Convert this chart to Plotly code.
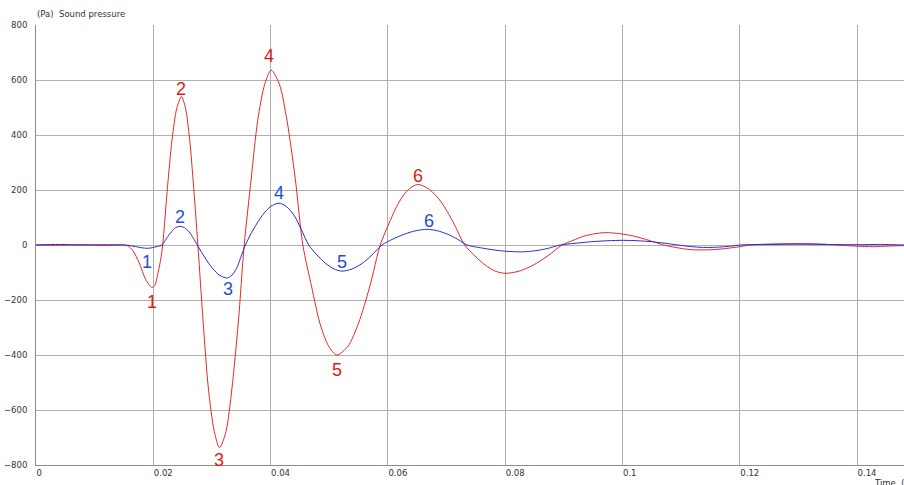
import plotly.graph_objects as go

# ---- data ----
red_t = [0.0000, 0.0040, 0.0080, 0.0120, 0.0155, 0.0165, 0.0176, 0.0187, 0.0198, 0.0203,
         0.0207, 0.0212, 0.0216, 0.0224, 0.0232, 0.0240, 0.0248, 0.0255, 0.0262, 0.0269,
         0.0276, 0.0285, 0.0294, 0.0304, 0.0313, 0.0324, 0.0334, 0.0345, 0.0355, 0.0367,
         0.0378, 0.0390, 0.0401, 0.0415, 0.0428, 0.0442, 0.0455, 0.0470, 0.0484, 0.0499,
         0.0513, 0.0532, 0.0550, 0.0569, 0.0587, 0.0603, 0.0619, 0.0635, 0.0651, 0.0671,
         0.0691, 0.0711, 0.0731, 0.0748, 0.0766, 0.0783, 0.0800, 0.0824, 0.0848, 0.0873,
         0.0897, 0.0916, 0.0934, 0.0953, 0.0971, 0.0996, 0.1020, 0.1045, 0.1070, 0.1086,
         0.1102, 0.1117, 0.1133, 0.1154, 0.1175, 0.1197, 0.1218, 0.1261, 0.1304, 0.1335,
         0.1366, 0.1397, 0.1428, 0.1455, 0.1480]
red_v = [0, -1, 1, -2, -2, -20, -65, -125, -155, -145,
         -112, -60, 0, 205, 383, 497, 540, 497, 383, 205,
         0, -280, -523, -678, -737, -678, -523, -280, 0, 242,
         452, 585, 636, 585, 452, 242, 0, -152, -284, -368,
         -400, -368, -284, -152, 0, 84, 156, 202, 220, 202,
         156, 84, 0, -39, -73, -95, -103, -95, -73, -39,
         0, 17, 32, 41, 45, 41, 32, 17, 0, -7,
         -13, -17, -18, -17, -13, -7, 0, 4, 5, 3.5,
         0, -4, -6, -4, -2]

blue_t = [0.0000, 0.0040, 0.0080, 0.0120, 0.0150, 0.0160, 0.0170, 0.0180, 0.0190, 0.0198,
          0.0207, 0.0215, 0.0223, 0.0231, 0.0238, 0.0246, 0.0253, 0.0261, 0.0268, 0.0275,
          0.0288, 0.0301, 0.0313, 0.0326, 0.0334, 0.0342, 0.0349, 0.0357, 0.0371, 0.0386,
          0.0400, 0.0414, 0.0427, 0.0440, 0.0452, 0.0465, 0.0479, 0.0494, 0.0508, 0.0522,
          0.0539, 0.0556, 0.0573, 0.0590, 0.0609, 0.0629, 0.0648, 0.0667, 0.0684, 0.0701,
          0.0718, 0.0735, 0.0758, 0.0781, 0.0803, 0.0826, 0.0843, 0.0860, 0.0877, 0.0894,
          0.0921, 0.0948, 0.0975, 0.1002, 0.1025, 0.1049, 0.1072, 0.1095, 0.1107, 0.1120,
          0.1132, 0.1144, 0.1158, 0.1173, 0.1187, 0.1201, 0.1250, 0.1300, 0.1350, 0.1400,
          0.1440, 0.1480]
blue_v = [0, 2, 0, 1, 0, -2, -6, -10, -12, -10,
          -5, 0, 26, 48, 63, 68, 63, 48, 26, 0,
          -46, -85, -110, -120, -110, -85, -46, 0, 58, 108,
          140, 152, 140, 108, 58, 0, -36, -67, -87, -95,
          -87, -67, -36, 0, 22, 40, 52, 57, 52, 40,
          22, 0, -10, -18, -23, -25, -23, -18, -10, 0,
          6.5, 12, 15.6, 17, 15.6, 12, 6.5, 0, -3.4, -6.4,
          -8.3, -9, -8.3, -6.4, -3.4, 0, 2, 3, 2, 1,
          2, 0]

label_text = ["1", "2", "3", "4", "5", "6"]
red_label_t = [0.0198, 0.0248, 0.0313, 0.0401, 0.0513, 0.0651]
blue_label_t = [0.0190, 0.0246, 0.0326, 0.0414, 0.0522, 0.0667]

y_ticks = [-800, -600, -400, -200, 0, 200, 400, 600, 800]
x_ticks = [0, 0.02, 0.04, 0.06, 0.08, 0.1, 0.12, 0.14]
x_tick_text = ["0", "0.02", "0.04", "0.06", "0.08", "0.1", "0.12", "0.14"]

# ---- styling ----
RED_LINE = "#e02a2a"
BLUE_LINE = "#2b2bd6"
RED_TEXT = "#dd1a1a"
BLUE_TEXT = "#1d4fd1"
GRID = "#b0b0b0"
AXIS = "#8c8c8c"
TICK_FONT = dict(family="DejaVu Sans", size=8.5, color="#333333")

# label offsets in pixels (xshift, yshift)
red_shift = [(0, -14), (0, 8), (-1, -12), (-2.5, 14.5), (0, -15), (0, 9)]
blue_shift = [(0, -14), (0, 9.5), (1, -11), (0, 10), (0, 9), (1.5, 8)]

fig = go.Figure()
fig.add_trace(go.Scatter(x=red_t, y=red_v, mode="lines",
                         line=dict(color=RED_LINE, width=1, shape="spline", smoothing=0.8),
                         showlegend=False, hoverinfo="skip"))
fig.add_trace(go.Scatter(x=blue_t, y=blue_v, mode="lines",
                         line=dict(color=BLUE_LINE, width=1, shape="spline", smoothing=0.8),
                         showlegend=False, hoverinfo="skip"))

annotations = []
for txt, t, (dx, dy) in zip(label_text, red_label_t, red_shift):
    i = red_t.index(t)
    annotations.append(dict(x=red_t[i], y=red_v[i], xref="x", yref="y", text=txt,
                            showarrow=False, xanchor="center", yanchor="middle",
                            xshift=dx, yshift=dy,
                            font=dict(family="Liberation Sans", size=18, color=RED_TEXT)))
for txt, t, (dx, dy) in zip(label_text, blue_label_t, blue_shift):
    i = blue_t.index(t)
    annotations.append(dict(x=blue_t[i], y=blue_v[i], xref="x", yref="y", text=txt,
                            showarrow=False, xanchor="center", yanchor="middle",
                            xshift=dx, yshift=dy,
                            font=dict(family="Liberation Sans", size=18, color=BLUE_TEXT)))

annotations.append(dict(x=0, y=1, xref="paper", yref="paper", text="(Pa)&nbsp;&nbsp;Sound pressure",
                        showarrow=False, xanchor="left", yanchor="bottom", yshift=4, xshift=-1,
                        font=TICK_FONT))
annotations.append(dict(x=1, y=0, xref="paper", yref="paper", text="Time&nbsp;&nbsp;(s)",
                        showarrow=False, xanchor="left", yanchor="top", xshift=-32, yshift=-11,
                        font=TICK_FONT))

fig.update_layout(
    width=904, height=485,
    margin=dict(l=36, r=0, t=25, b=20, pad=0, autoexpand=False),
    paper_bgcolor="white", plot_bgcolor="white",
    annotations=annotations,
    xaxis=dict(range=[0, 0.148], tickvals=x_ticks, ticktext=x_tick_text, automargin=False,
               showgrid=True, gridcolor=GRID, gridwidth=1, zeroline=False,
               showline=True, linecolor=AXIS, linewidth=1,
               ticks="", ticklabelposition="outside right", tickfont=TICK_FONT),
    yaxis=dict(range=[-800, 800], tickvals=y_ticks, automargin=False,
               showgrid=True, gridcolor=GRID, gridwidth=1, zeroline=False,
               showline=True, linecolor=AXIS, linewidth=1,
               ticks="", tickfont=TICK_FONT, ticklabelstandoff=6),
)

fig.write_html("out.html",
               config={"displayModeBar": False, "staticPlot": True},
               post_script="document.body.style.margin='0';document.body.style.padding='0';"
                           "document.body.style.overflow='hidden';")
